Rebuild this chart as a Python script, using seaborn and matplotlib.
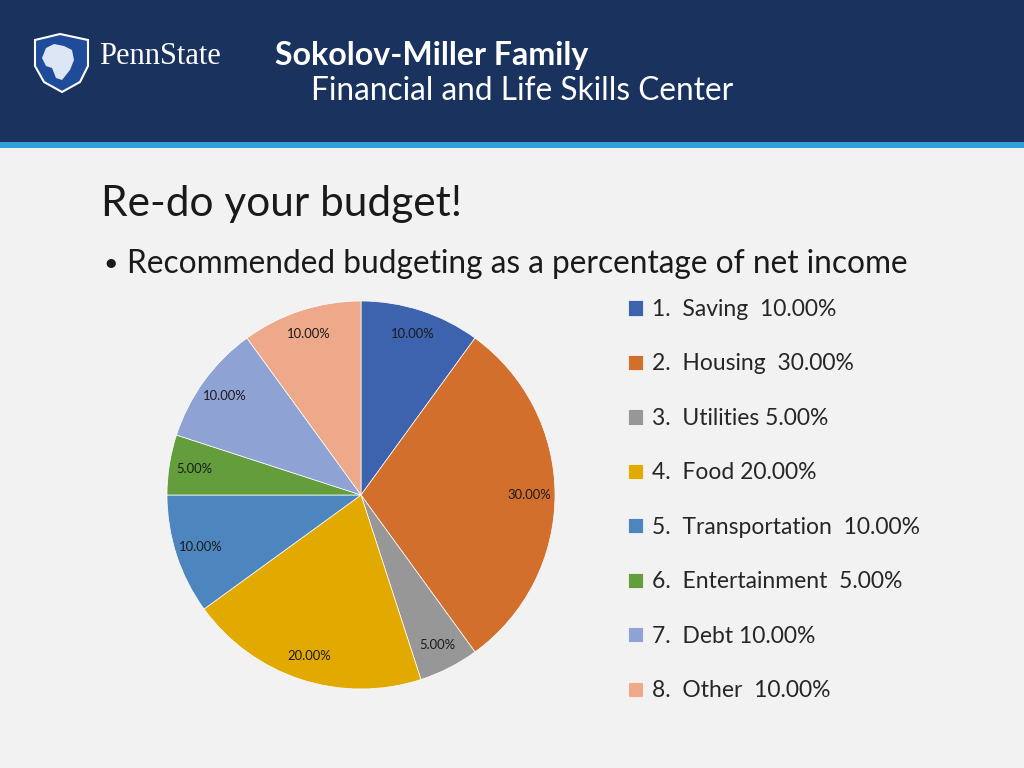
import matplotlib.pyplot as plt
import seaborn as sns
from matplotlib.patches import Rectangle, Polygon

# Datos del grafico
categorias = ['Saving', 'Housing', 'Utilities', 'Food', 'Transportation',
              'Entertainment', 'Debt', 'Other']
porcentajes = [10, 30, 5, 20, 10, 5, 10, 10]
etiquetas_leyenda = ['1.  Saving  10.00%', '2.  Housing  30.00%', '3.  Utilities 5.00%',
                     '4.  Food 20.00%', '5.  Transportation  10.00%',
                     '6.  Entertainment  5.00%', '7.  Debt 10.00%', '8.  Other  10.00%']
colores = ['#3D63AE', '#D36F2D', '#979797', '#E2AA00', '#4D86BE',
           '#649E3C', '#8FA2D4', '#EEA98A']

sns.set_style('white')
plt.rcParams['font.family'] = ['Lato', 'DejaVu Sans']

W, H = 1024, 768
fig = plt.figure(figsize=(10.24, 7.68), dpi=100, facecolor='#F2F2F2')


def px(x, y):
    # pixeles desde arriba-izquierda -> coordenadas de figura
    return x / W, 1 - y / H


# Cabecera
fig.patches.append(Rectangle((0, 1 - 142 / H), 1, 142 / H, transform=fig.transFigure,
                             facecolor='#19325E', edgecolor='none', zorder=0))
fig.patches.append(Rectangle((0, 1 - 148 / H), 1, 6 / H, transform=fig.transFigure,
                             facecolor='#2E9FD9', edgecolor='none', zorder=0))

# Escudo
escudo = [(35, 40), (60, 34), (88, 40), (88, 66), (80, 82), (62, 92), (44, 82), (35, 66)]
fig.patches.append(Polygon([px(x, y) for x, y in escudo], closed=True, transform=fig.transFigure,
                           facecolor='#1E4B9A', edgecolor='white', linewidth=1.5, zorder=1))
leon = [(42, 58), (46, 48), (54, 44), (64, 46), (72, 50), (74, 60), (70, 70), (62, 80),
        (56, 78), (52, 68), (46, 66)]
fig.patches.append(Polygon([px(x, y) for x, y in leon], closed=True, transform=fig.transFigure,
                           facecolor='#DCE6F4', edgecolor='none', zorder=2))

fig.text(*px(99, 56), 'PennState', family='Liberation Serif', fontsize=22, color='white', va='center')
fig.text(*px(275, 56), 'Sokolov-Miller Family', fontsize=23.1, fontweight='bold', color='white',
         va='center')
fig.text(*px(311, 91), 'Financial and Life Skills Center', fontsize=22.8, color='white',
         va='center')

# Titulo
fig.text(*px(101, 204), 'Re-do your budget!', fontsize=30.5, color='#1a1a1a', va='center')
fig.text(*px(103, 264), '•', fontsize=18, color='#1a1a1a', va='center')
fig.text(*px(127, 264), 'Recommended budgeting as a percentage of net income', fontsize=22.8,
         color='#1a1a1a', va='center')

# Pizza
cx, cy, r = 361, 495, 194
ax = fig.add_axes([(cx - r) / W, (H - cy - r) / H, 2 * r / W, 2 * r / H])
ax.set_facecolor('none')
wedges, textos, pct = ax.pie(
    porcentajes,
    colors=colores,
    startangle=90,
    counterclock=False,
    autopct='%.2f%%',
    pctdistance=0.87,
    radius=1,
    wedgeprops={'edgecolor': 'white', 'linewidth': 0.5},
    textprops={'fontsize': 9.4, 'color': '#1a1a1a'}
)
ax.set_xlim(-1, 1)
ax.set_ylim(-1, 1)
ax.axis('off')

ax.legend(
    wedges, etiquetas_leyenda,
    loc='upper left',
    bbox_to_anchor=px(628, 299),
    bbox_transform=fig.transFigure,
    frameon=False,
    fontsize=16.5,
    handlelength=0.65,
    handleheight=0.65,
    handletextpad=0.4,
    labelspacing=1.46,
    borderpad=0,
    borderaxespad=0
)

plt.savefig('out.png', dpi=100, facecolor=fig.get_facecolor())
